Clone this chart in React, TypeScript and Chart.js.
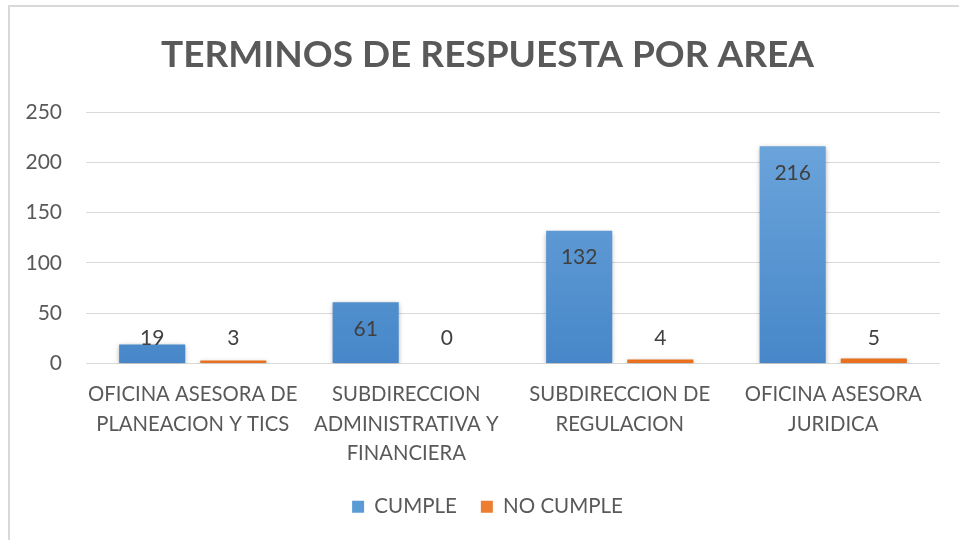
import React, { useEffect, useRef } from "react";
import { Chart, registerables } from "chart.js";

Chart.register(...registerables);

const categories: string[][] = [
  ["OFICINA ASESORA DE", "PLANEACION Y TICS"],
  ["SUBDIRECCION", "ADMINISTRATIVA Y", "FINANCIERA"],
  ["SUBDIRECCION DE", "REGULACION"],
  ["OFICINA ASESORA", "JURIDICA"],
];
const cumple: number[] = [19, 61, 132, 216];
const noCumple: number[] = [3, 0, 4, 5];
const seriesNames: string[] = ["CUMPLE", "NO CUMPLE"];
const titleText = "TERMINOS DE RESPUESTA POR AREA";

const FONT = "Lato, 'Open Sans', sans-serif";

function makeGradient(chart: any, top: string, bottom: string) {
  const { ctx, chartArea } = chart;
  if (!chartArea) return bottom;
  const g = ctx.createLinearGradient(0, chartArea.top, 0, chartArea.bottom);
  g.addColorStop(0, top);
  g.addColorStop(1, bottom);
  return g;
}

const shadowPlugin = {
  id: "barShadow",
  beforeDatasetsDraw(chart: any) {
    const ctx = chart.ctx;
    ctx.save();
    ctx.shadowColor = "rgba(0,0,0,0.35)";
    ctx.shadowBlur = 5;
    ctx.shadowOffsetX = 0;
    ctx.shadowOffsetY = 2;
  },
  afterDatasetsDraw(chart: any) {
    chart.ctx.restore();
  },
};

const labelPlugin = {
  id: "valueLabels",
  afterDraw(chart: any) {
    const ctx = chart.ctx;
    ctx.save();
    ctx.font = `21px ${FONT}`;
    ctx.fillStyle = "#404040";
    ctx.textAlign = "center";
    ctx.textBaseline = "middle";
    chart.data.datasets.forEach((ds: any, di: number) => {
      const meta = chart.getDatasetMeta(di);
      meta.data.forEach((el: any, i: number) => {
        const base = el.base;
        const y = Math.min(el.y + 27, base - 25);
        ctx.fillText(String(ds.data[i]), el.x, y);
      });
    });
    ctx.restore();
  },
};

export default function App() {
  const ref = useRef<HTMLCanvasElement>(null);
  useEffect(() => {
    if (!ref.current) return;
    const chart = new Chart(ref.current, {
      type: "bar",
      data: {
        labels: categories,
        datasets: [
          {
            label: seriesNames[0],
            data: cumple,
            backgroundColor: (c: any) => makeGradient(c.chart, "#70a8dd", "#4787c9"),
            categoryPercentage: 0.76,
            barPercentage: 0.815,
          },
          {
            label: seriesNames[1],
            data: noCumple,
            backgroundColor: (c: any) => makeGradient(c.chart, "#f59a5c", "#e8701f"),
            categoryPercentage: 0.76,
            barPercentage: 0.815,
          },
        ],
      },
      options: {
        responsive: false,
        animation: false,
        layout: { padding: { left: 16, right: 0, top: 0, bottom: 13 } },
        plugins: {
          title: {
            display: true,
            text: titleText,
            color: "#595959",
            font: { family: FONT, size: 37, weight: "bold", lineHeight: 1.2 },
            padding: { top: 33, bottom: 34.6 },
          },
          legend: {
            position: "bottom",
            labels: {
              boxWidth: 12,
              boxHeight: 12,
              padding: 24,
              color: "#595959",
              font: { family: FONT, size: 20.5 },
              generateLabels: (chart: any) =>
                chart.data.datasets.map((ds: any, i: number) => ({
                  text: ds.label,
                  fillStyle: i === 0 ? "#5b9bd5" : "#ed7d31",
                  strokeStyle: i === 0 ? "#5b9bd5" : "#ed7d31",
                  lineWidth: 0,
                  fontColor: "#595959",
                  datasetIndex: i,
                  hidden: false,
                })),
            },
          },
          tooltip: { enabled: false },
        },
        scales: {
          x: {
            grid: { display: false, drawTicks: false },
            border: { display: false },
            ticks: {
              color: "#595959",
              font: { family: FONT, size: 20.3, lineHeight: 1.45 },
              padding: 16.5,
              maxRotation: 0,
              autoSkip: false,
            },
            afterFit: (s: any) => {
              s.height = 109;
            },
          },
          y: {
            min: 0,
            max: 250,
            ticks: {
              stepSize: 50,
              color: "#595959",
              font: { family: FONT, size: 21 },
              padding: 24,
            },
            grid: { color: "#d9d9d9", drawTicks: false, lineWidth: 1 },
            border: { display: false },
            afterFit: (s: any) => {
              s.width = 70;
            },
          },
          yRight: {
            type: "linear",
            position: "right",
            display: true,
            grid: { display: false, drawTicks: false },
            border: { display: false },
            ticks: { display: false },
            afterFit: (s: any) => {
              s.width = 19;
            },
          },
        },
      },
      plugins: [shadowPlugin, labelPlugin],
    });
    return () => chart.destroy();
  }, []);
  return (
    <div style={{ position: "fixed", left: 0, top: 0, width: 959, height: 540, background: "#fff" }}>
      <div
        style={{
          position: "absolute",
          left: 8,
          top: 5,
          right: 0,
          bottom: 0,
          borderTop: "2px solid #d9d9d9",
          borderLeft: "2px solid #d9d9d9",
        }}
      />
      <canvas ref={ref} width={959} height={540} style={{ position: "absolute", left: 0, top: 0 }} />
    </div>
  );
}
